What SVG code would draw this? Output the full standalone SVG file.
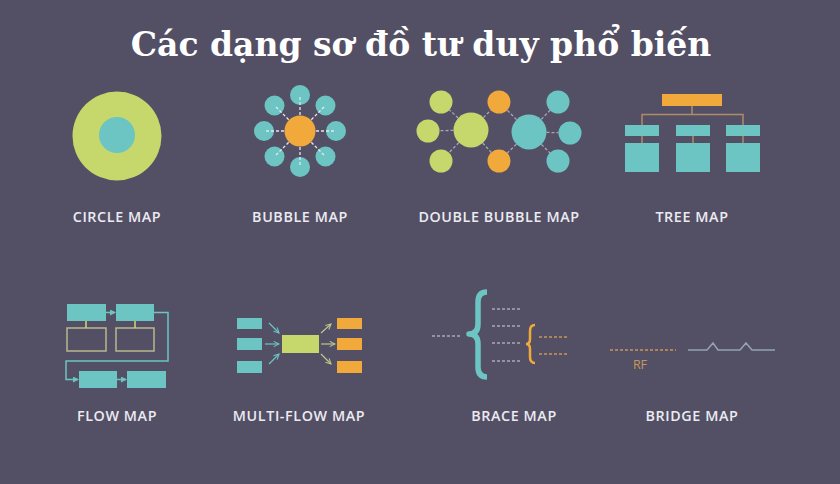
<svg xmlns="http://www.w3.org/2000/svg" width="840" height="484" viewBox="0 0 840 484">
<defs>
<style>
.lbl{font-family:"Open Sans","DejaVu Sans",sans-serif;font-weight:600;font-size:14.3px;fill:#ecebf1;text-anchor:middle;letter-spacing:0.6px}
.teal{fill:#6cc5c2}
.lime{fill:#c6d86c}
.org{fill:#f2a93b}
.dw{stroke:#e6e4ee;stroke-width:1.3;stroke-dasharray:3 2;fill:none}
.dg{stroke:#a9a6b8;stroke-width:1.3;stroke-dasharray:3 2;fill:none}
.do{stroke:#c8965a;stroke-width:1.3;stroke-dasharray:3 2;fill:none}
.tr{stroke:#b08a6a;stroke-width:1.5;fill:none}
.fl{stroke:#6cc5c2;stroke-width:1.5;fill:none}
.box{fill:none;stroke:#b9b88c;stroke-width:1.5}
</style>
<marker id="ah" viewBox="0 0 6 6" refX="5" refY="3" markerWidth="6" markerHeight="6" markerUnits="userSpaceOnUse" orient="auto"><path d="M0,0 L6,3 L0,6 Z" fill="#6cc5c2"/></marker>
<marker id="at" viewBox="0 0 8 8" refX="7" refY="4" markerWidth="7" markerHeight="7" markerUnits="userSpaceOnUse" orient="auto"><path d="M1,1 L7,4 L1,7" fill="none" stroke="#6cc5c2" stroke-width="1.2"/></marker>
<marker id="al" viewBox="0 0 8 8" refX="7" refY="4" markerWidth="7" markerHeight="7" markerUnits="userSpaceOnUse" orient="auto"><path d="M1,1 L7,4 L1,7" fill="none" stroke="#b9c78a" stroke-width="1.2"/></marker>
</defs>
<rect width="840" height="484" fill="#535066"/>
<text x="421" y="56" font-family="'DejaVu Serif','Liberation Serif',serif" font-weight="bold" font-size="33" fill="#ffffff" text-anchor="middle">Các dạng sơ đồ tư duy phổ biến</text>

<g id="circle-map">
<circle cx="117" cy="136" r="44.5" class="lime"/>
<circle cx="117" cy="135" r="18" class="teal"/>
<text x="117" y="222" class="lbl">CIRCLE MAP</text>
</g>

<g id="bubble-map">
<circle cx="300" cy="131" r="15.5" class="org"/>
<circle cx="300" cy="95" r="10" class="teal"/>
<circle cx="325.5" cy="105.5" r="10" class="teal"/>
<circle cx="336" cy="131" r="10" class="teal"/>
<circle cx="325.5" cy="156.5" r="10" class="teal"/>
<circle cx="300" cy="167" r="10" class="teal"/>
<circle cx="274.5" cy="156.5" r="10" class="teal"/>
<circle cx="264" cy="131" r="10" class="teal"/>
<circle cx="274.5" cy="105.5" r="10" class="teal"/>
<text x="300" y="222" class="lbl">BUBBLE MAP</text>
</g>

<g id="double-bubble-map">
<circle cx="471" cy="130" r="17.5" class="lime"/>
<circle cx="529" cy="132" r="17.5" class="teal"/>
<circle cx="441" cy="102" r="11.5" class="lime"/>
<circle cx="428" cy="131" r="11.5" class="lime"/>
<circle cx="441" cy="161" r="11.5" class="lime"/>
<circle cx="499" cy="102" r="11.5" class="org"/>
<circle cx="499" cy="161" r="11.5" class="org"/>
<circle cx="558" cy="102" r="11.5" class="teal"/>
<circle cx="570" cy="133" r="11.5" class="teal"/>
<circle cx="558" cy="161" r="11.5" class="teal"/>
<text x="499" y="222" class="lbl">DOUBLE BUBBLE MAP</text>
</g>

<g id="tree-map">
<rect x="662" y="94" width="60" height="12" class="org"/>
<rect x="625" y="125" width="34" height="11" class="teal"/>
<rect x="676" y="125" width="34" height="11" class="teal"/>
<rect x="726" y="125" width="34" height="11" class="teal"/>
<rect x="625" y="143" width="34" height="29" class="teal"/>
<rect x="676" y="143" width="34" height="29" class="teal"/>
<rect x="726" y="143" width="34" height="29" class="teal"/>
<text x="692" y="222" class="lbl">TREE MAP</text>
</g>

<g id="flow-map">
<rect x="67" y="304" width="39" height="17" class="teal"/>
<rect x="116" y="304" width="38" height="17" class="teal"/>
<rect x="67" y="328" width="39" height="23" class="box"/>
<rect x="116" y="328" width="38" height="23" class="box"/>
<rect x="79" y="371" width="38" height="17" class="teal"/>
<rect x="127" y="371" width="39" height="17" class="teal"/>
<text x="117" y="421" class="lbl">FLOW MAP</text>
</g>

<g id="multi-flow-map">
<rect x="237" y="318" width="25" height="11" class="teal"/>
<rect x="237" y="338" width="25" height="12" class="teal"/>
<rect x="237" y="361" width="25" height="12" class="teal"/>
<rect x="282" y="335" width="37" height="18" class="lime"/>
<rect x="337" y="318" width="25" height="11" class="org"/>
<rect x="337" y="338" width="25" height="12" class="org"/>
<rect x="337" y="361" width="25" height="12" class="org"/>
<text x="299" y="421" class="lbl">MULTI-FLOW MAP</text>
</g>

<g id="brace-map">
<path d="M487,292 Q478,292 478,302 L478,324 Q478,334 469,334 Q478,334 478,344 L478,367 Q478,377 487,377" fill="none" stroke="#6cc5c2" stroke-width="5.5" stroke-linejoin="round"/>
<path d="M535,325 Q530,325 530,331 L530,339 Q530,344 526,344 Q530,344 530,349 L530,357 Q530,363 535,363" fill="none" stroke="#f2a93b" stroke-width="2.5"/>
<text x="514" y="421" class="lbl">BRACE MAP</text>
</g>

<g id="bridge-map">
<text x="640" y="369" font-family="'Open Sans','DejaVu Sans',sans-serif" font-size="12.5" fill="#c8965a" text-anchor="middle">RF</text>
<text x="692" y="421" class="lbl">BRIDGE MAP</text>
</g>

<g id="connectors">
<g class="dw">
<line x1="300" y1="115" x2="300" y2="97"/>
<line x1="300" y1="115" x2="300" y2="97" transform="rotate(45 300 131)"/>
<line x1="300" y1="115" x2="300" y2="97" transform="rotate(90 300 131)"/>
<line x1="300" y1="115" x2="300" y2="97" transform="rotate(135 300 131)"/>
<line x1="300" y1="115" x2="300" y2="97" transform="rotate(180 300 131)"/>
<line x1="300" y1="115" x2="300" y2="97" transform="rotate(225 300 131)"/>
<line x1="300" y1="115" x2="300" y2="97" transform="rotate(270 300 131)"/>
<line x1="300" y1="115" x2="300" y2="97" transform="rotate(315 300 131)"/>
</g>
<g class="dg">
<line x1="458.2" y1="118" x2="449.4" y2="109.9"/>
<line x1="453.5" y1="130.4" x2="439.5" y2="130.7"/>
<line x1="458.8" y1="142.6" x2="449" y2="152.7"/>
<line x1="483.4" y1="117.6" x2="490.9" y2="110.1"/>
<line x1="482.7" y1="143" x2="491.3" y2="152.5"/>
<line x1="516.6" y1="119.6" x2="507.1" y2="110.1"/>
<line x1="516.4" y1="144.2" x2="507.3" y2="153"/>
<line x1="541.2" y1="119.4" x2="550" y2="110.3"/>
<line x1="546.5" y1="132.4" x2="558.5" y2="132.7"/>
<line x1="541.4" y1="144.4" x2="549.9" y2="152.9"/>
</g>
<g class="tr">
<path d="M692,106 V114.5 M642,125 V114.5 H743 V125 M642,136 V143 M693,136 V143 M743,136 V143"/>
</g>
<g>
<path d="M86,321 V328 M135,321 V328" stroke="#d6d27a" stroke-width="1.5"/>
<path d="M106,312.5 H115" class="fl" marker-end="url(#ah)"/>
<path d="M154,312.5 H168 V361 H66 V379.5 H78" class="fl" marker-end="url(#ah)"/>
<path d="M117,379.5 H126" class="fl" marker-end="url(#ah)"/>
</g>
<g stroke-width="1.2" fill="none">
<path d="M269,323 L279,333" stroke="#6cc5c2" marker-end="url(#at)"/>
<path d="M265,344 L279,344" stroke="#6cc5c2" marker-end="url(#at)"/>
<path d="M269,364 L279,354" stroke="#6cc5c2" marker-end="url(#at)"/>
<path d="M321,333 L331,324" stroke="#b9c78a" marker-end="url(#al)"/>
<path d="M321,344 L335,344" stroke="#b9c78a" marker-end="url(#al)"/>
<path d="M321,354 L331,364" stroke="#b9c78a" marker-end="url(#al)"/>
</g>
<g class="dg">
<line x1="432" y1="336" x2="460" y2="336"/>
<line x1="492" y1="309" x2="520" y2="309"/>
<line x1="492" y1="326" x2="520" y2="326"/>
<line x1="492" y1="343" x2="520" y2="343"/>
<line x1="492" y1="361" x2="520" y2="361"/>
</g>
<g class="do">
<line x1="539" y1="337" x2="567" y2="337"/>
<line x1="539" y1="354" x2="567" y2="354"/>
<line x1="610" y1="350" x2="676" y2="350"/>
</g>
<path d="M688,350 H707 L713,343 L718,350 H740 L746,343 L752,350 H775" fill="none" stroke="#95a3b5" stroke-width="1.5"/>
</g>
</svg>
